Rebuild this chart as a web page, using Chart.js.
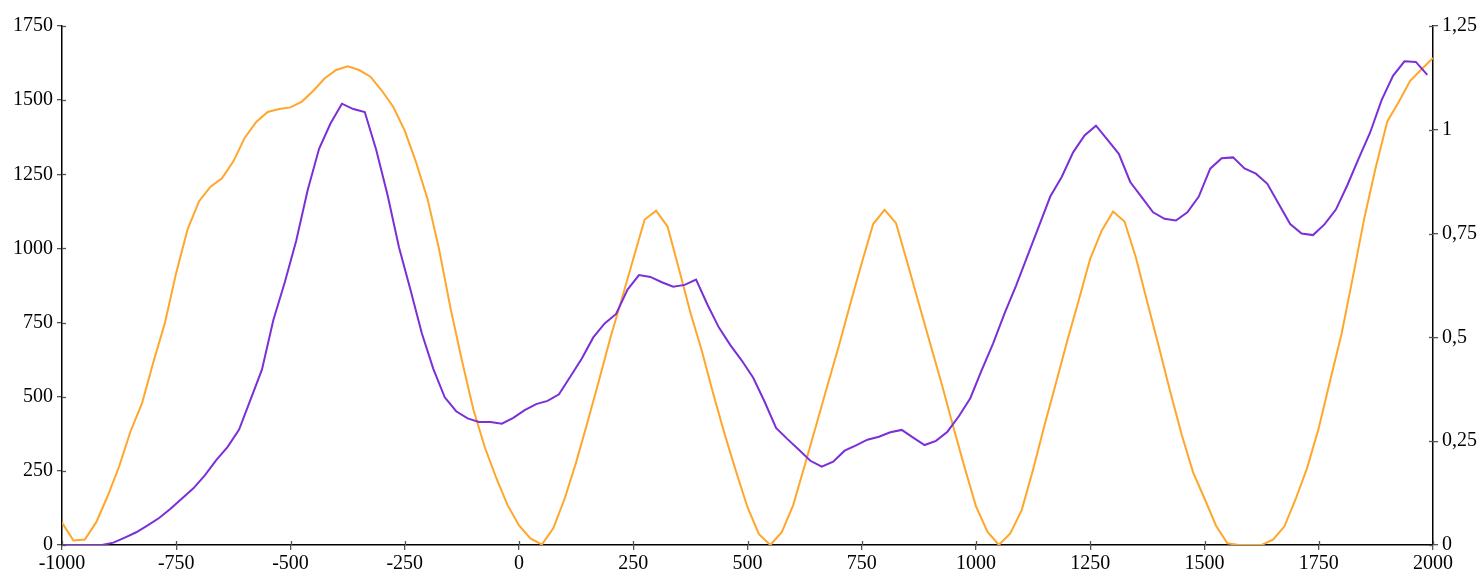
<!DOCTYPE html>
<html>
<head>
<meta charset="utf-8">
<script src="https://cdn.jsdelivr.net/npm/chart.js@4/dist/chart.umd.min.js"></script>
<style>
html,body{margin:0;padding:0;background:#fff;}
#wrap{width:1483px;height:579px;position:relative;}
</style>
</head>
<body>
<div id="wrap"><canvas id="c" width="1483" height="579"></canvas></div>
<script>
// Orange series (right axis), years every 25
const orangeYears = [-1000,-975,-950,-925,-900,-875,-850,-825,-800,-775,-750,-725,-700,-675,-650,-625,-600,-575,-550,-525,-500,-475,-450,-425,-400,-375,-350,-325,-300,-275,-250,-225,-200,-175,-150,-125,-100,-75,-50,-25,0,25,50,75,100,125,150,175,200,225,250,275,300,325,350,375,400,425,450,475,500,525,550,575,600,625,650,675,700,725,750,775,800,825,850,875,900,925,950,975,1000,1025,1050,1075,1100,1125,1150,1175,1200,1225,1250,1275,1300,1325,1350,1375,1400,1425,1450,1475,1500,1525,1550,1575,1600,1625,1650,1675,1700,1725,1750,1775,1800,1825,1850,1875,1900,1925,1950,1975,2000];
const orangeValues = [0.054,0.011,0.013,0.055,0.118,0.189,0.274,0.341,0.441,0.534,0.656,0.761,0.828,0.863,0.883,0.924,0.981,1.019,1.043,1.050,1.054,1.068,1.094,1.124,1.144,1.153,1.144,1.128,1.094,1.055,0.998,0.921,0.833,0.713,0.571,0.445,0.327,0.236,0.162,0.096,0.047,0.016,0.001,0.040,0.112,0.199,0.296,0.396,0.499,0.593,0.689,0.784,0.805,0.767,0.665,0.560,0.468,0.364,0.267,0.177,0.091,0.026,0.000,0.031,0.096,0.191,0.287,0.384,0.480,0.581,0.679,0.773,0.807,0.775,0.679,0.581,0.484,0.388,0.286,0.187,0.093,0.032,0.000,0.028,0.084,0.182,0.289,0.390,0.493,0.590,0.690,0.757,0.803,0.779,0.692,0.584,0.478,0.369,0.266,0.175,0.112,0.047,0.004,0,0,0,0.013,0.045,0.112,0.187,0.282,0.396,0.509,0.647,0.789,0.911,1.020,1.067,1.118,1.146,1.173];

// Purple series (left axis)
const purpleYears = [-1000,-987.5,-962.5,-937.5,-912.5,-887.5,-862.5,-837.5,-812.5,-787.5,-762.5,-737.5,-712.5,-687.5,-662.5,-637.5,-612.5,-587.5,-562.5,-537.5,-512.5,-487.5,-462.5,-437.5,-412.5,-387.5,-362.5,-337.5,-312.5,-287.5,-262.5,-237.5,-212.5,-187.5,-162.5,-137.5,-112.5,-87.5,-62.5,-37.5,-12.5,12.5,37.5,62.5,87.5,112.5,137.5,162.5,187.5,212.5,237.5,262.5,287.5,312.5,337.5,362.5,387.5,412.5,437.5,462.5,487.5,512.5,537.5,562.5,587.5,612.5,637.5,662.5,687.5,712.5,737.5,762.5,787.5,812.5,837.5,862.5,887.5,912.5,937.5,962.5,987.5,1012.5,1037.5,1062.5,1087.5,1112.5,1137.5,1162.5,1187.5,1212.5,1237.5,1262.5,1287.5,1312.5,1337.5,1362.5,1387.5,1412.5,1437.5,1462.5,1487.5,1512.5,1537.5,1562.5,1587.5,1612.5,1637.5,1662.5,1687.5,1712.5,1737.5,1762.5,1787.5,1812.5,1837.5,1862.5,1887.5,1912.5,1937.5,1962.5,1987.5];
const purpleValues = [0,0,0,0,0,8,25,43,66,91,122,157,191,235,286,331,389,490,591,759,886,1026,1196,1336,1421,1488,1470,1460,1333,1179,1003,861,713,594,498,451,427,415,415,409,429,455,475,486,508,568,629,700,747,779,861,910,904,886,871,877,895,810,733,674,622,564,483,395,357,321,284,264,281,318,336,355,365,380,388,362,337,351,382,434,495,590,680,781,874,974,1074,1175,1241,1324,1381,1414,1367,1319,1224,1173,1122,1100,1094,1122,1175,1269,1304,1307,1270,1252,1218,1150,1082,1050,1045,1081,1131,1213,1304,1391,1500,1582,1631,1629,1585];

const orangeColor = '#FFA62B';
const purpleColor = '#7B2FD6';
const FONT = {family: '"Liberation Serif", "DejaVu Serif", serif', size: 20};

const innerTicks = {
  id: 'innerTicks',
  afterDraw(chart) {
    const ctx = chart.ctx;
    const ca = chart.chartArea;
    ctx.save();
    ctx.strokeStyle = '#555';
    ctx.lineWidth = 1.3;
    const len = 4;
    const x = chart.scales.x, yl = chart.scales.y, yr = chart.scales.y2;
    x.ticks.forEach(t => {
      const px = Math.round(x.getPixelForValue(t.value)) + 0.5;
      ctx.beginPath(); ctx.moveTo(px, ca.bottom); ctx.lineTo(px, ca.bottom - len); ctx.stroke();
    });
    yl.ticks.forEach(t => {
      const py = Math.round(yl.getPixelForValue(t.value)) + 0.5;
      ctx.beginPath(); ctx.moveTo(ca.left, py); ctx.lineTo(ca.left + len, py); ctx.stroke();
    });
    yr.ticks.forEach(t => {
      const py = Math.round(yr.getPixelForValue(t.value)) + 0.5;
      ctx.beginPath(); ctx.moveTo(ca.right, py); ctx.lineTo(ca.right - len, py); ctx.stroke();
    });
    ctx.restore();
  }
};

new Chart(document.getElementById('c'), {
  type: 'line',
  data: {
    datasets: [
      {
        label: 'purple',
        data: purpleYears.map((x, i) => ({x: x, y: purpleValues[i]})),
        borderColor: purpleColor,
        borderWidth: 2,
        pointRadius: 0,
        tension: 0,
        yAxisID: 'y'
      },
      {
        label: 'orange',
        data: orangeYears.map((x, i) => ({x: x, y: orangeValues[i]})),
        borderColor: orangeColor,
        borderWidth: 2,
        pointRadius: 0,
        tension: 0,
        yAxisID: 'y2'
      }
    ]
  },
  options: {
    responsive: false,
    animation: false,
    devicePixelRatio: 1,
    layout: {padding: {top: 26, left: 0, right: 0, bottom: 0}},
    plugins: {legend: {display: false}, tooltip: {enabled: false}},
    scales: {
      x: {
        type: 'linear',
        min: -1000, max: 2000,
        afterFit(s) { s.height = 34; },
        ticks: {stepSize: 250, color: '#000', font: FONT, padding: 2, maxRotation: 0, autoSkip: false,
          callback: v => String(v)},
        grid: {drawOnChartArea: false, drawTicks: true, tickLength: 5, color: '#555', lineWidth: 1.3},
        border: {display: true, color: '#000', width: 1.5}
      },
      y: {
        position: 'left',
        min: 0, max: 1750,
        afterFit(s) { s.width = 62; },
        ticks: {stepSize: 250, color: '#000', font: FONT, padding: 4, callback: v => String(v)},
        grid: {drawOnChartArea: false, drawTicks: true, tickLength: 5, color: '#555', lineWidth: 1.3},
        border: {display: true, color: '#000', width: 1.5}
      },
      y2: {
        position: 'right',
        min: 0, max: 1.25,
        afterFit(s) { s.width = 50; },
        ticks: {stepSize: 0.25, color: '#000', font: FONT, padding: 4,
          callback: v => String(Math.round(v * 100) / 100).replace('.', ',')},
        grid: {drawOnChartArea: false, drawTicks: true, tickLength: 5, color: '#555', lineWidth: 1.3},
        border: {display: true, color: '#000', width: 1.5}
      }
    }
  },
  plugins: [innerTicks]
});
</script>
</body>
</html>
